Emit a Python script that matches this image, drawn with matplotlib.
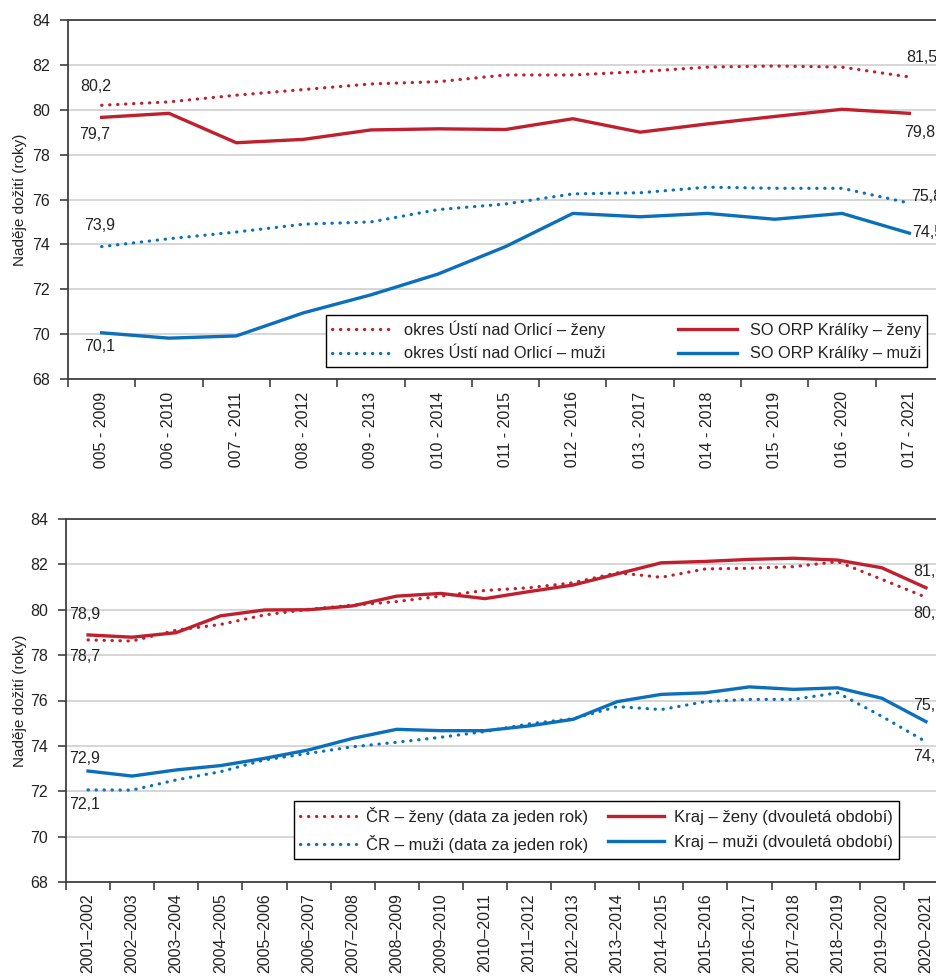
import numpy as np
import matplotlib
matplotlib.use("Agg")
import matplotlib.pyplot as plt
from matplotlib.ticker import NullFormatter
from matplotlib.transforms import Bbox, TransformedBbox

plt.rcParams["font.family"] = ["Liberation Sans", "DejaVu Sans"]

# horní graf - pětiletá období
obdobi_5 = ["2005 - 2009", "2006 - 2010", "2007 - 2011", "2008 - 2012", "2009 - 2013",
            "2010 - 2014", "2011 - 2015", "2012 - 2016", "2013 - 2017", "2014 - 2018",
            "2015 - 2019", "2016 - 2020", "2017 - 2021"]
okres_zeny = [80.2, 80.35, 80.65, 80.9, 81.15, 81.25, 81.55, 81.55, 81.7, 81.9, 81.95, 81.9, 81.46]
okres_muzi = [73.9, 74.25, 74.55, 74.9, 75.0, 75.55, 75.8, 76.25, 76.3, 76.55, 76.5, 76.5, 75.84]
orp_zeny = [79.66, 79.84, 78.53, 78.68, 79.1, 79.15, 79.12, 79.6, 79.0, 79.37, 79.7, 80.02, 79.84]
orp_muzi = [70.06, 69.82, 69.92, 70.95, 71.75, 72.68, 73.9, 75.38, 75.23, 75.38, 75.12, 75.38, 74.5]

# dolní graf - dvouletá období
obdobi_2 = ["2001–2002", "2002–2003", "2003–2004", "2004–2005", "2005–2006", "2006–2007",
            "2007–2008", "2008–2009", "2009–2010", "2010–2011", "2011–2012", "2012–2013",
            "2013–2014", "2014–2015", "2015–2016", "2016–2017", "2017–2018", "2018–2019",
            "2019–2020", "2020–2021"]
cr_zeny = [78.67, 78.62, 79.1, 79.35, 79.77, 80.02, 80.2, 80.36, 80.6, 80.85,
           80.97, 81.19, 81.63, 81.43, 81.8, 81.83, 81.9, 82.12, 81.34, 80.55]
cr_muzi = [72.06, 72.05, 72.5, 72.86, 73.38, 73.67, 73.96, 74.16, 74.38, 74.63,
           74.97, 75.2, 75.73, 75.6, 75.95, 76.05, 76.05, 76.34, 75.3, 74.18]
kraj_zeny = [78.89, 78.79, 78.99, 79.73, 79.99, 80.0, 80.17, 80.6, 80.72, 80.49,
             80.8, 81.09, 81.58, 82.07, 82.13, 82.22, 82.27, 82.19, 81.85, 80.97]
kraj_muzi = [72.89, 72.67, 72.94, 73.13, 73.45, 73.82, 74.33, 74.73, 74.67, 74.67,
             74.88, 75.17, 75.95, 76.27, 76.34, 76.6, 76.49, 76.56, 76.1, 75.07]

RED = "#c0202e"
BLUE = "#0b6fbb"
SPINE = "#404040"
TXT = "#222222"
DOT = (0, (0.1, 2.4))


def fmt(v):
    return f"{v:.1f}".replace(".", ",")


def popisek(ax, x, y, dx, dy, ha="center"):
    ax.annotate(fmt(y), (x, y), xytext=(dx, dy), textcoords="offset pixels",
                ha=ha, va="center", fontsize=11.5, color=TXT)


def nastav(ax, labels):
    n = len(labels)
    ax.set_xlim(-0.5, n - 0.5)
    ax.set_ylim(68, 84)
    ax.set_yticks(range(68, 85, 2))
    ax.set_xticks(np.arange(n + 1) - 0.5)
    ax.xaxis.set_major_formatter(NullFormatter())
    ax.set_xticks(range(n), minor=True)
    ax.set_xticklabels(labels, minor=True, rotation=90)
    ax.tick_params(axis="x", which="minor", length=0, pad=9, labelsize=11.5, labelcolor=TXT)
    ax.tick_params(axis="x", which="major", length=6, width=1.2, color=SPINE)
    ax.tick_params(axis="y", length=6, width=1.2, color=SPINE, pad=7, labelsize=11.5, labelcolor=TXT)
    ax.grid(axis="y", color="#cccccc", linewidth=1.1)
    ax.set_axisbelow(True)
    ax.spines["right"].set_visible(False)
    for s in ["left", "bottom", "top"]:
        ax.spines[s].set_color(SPINE)
        ax.spines[s].set_linewidth(1.3)
    ax.set_ylabel("Naděje dožití (roky)", fontsize=11, color=TXT)


def legenda(ax, handles, box, fs, ls, hl, tp):
    x0, y0, x1, y1 = box
    leg = ax.legend(handles, [h.get_label() for h in handles], ncol=2, mode="expand",
                    loc="lower left",
                    bbox_to_anchor=(x0 / 937, 1 - y1 / 976, (x1 - x0) / 937, (y1 - y0) / 976),
                    bbox_transform=fig.transFigure, fancybox=False, edgecolor="black",
                    framealpha=1, handlelength=hl, handletextpad=tp, borderpad=0.35,
                    labelspacing=ls, fontsize=fs, borderaxespad=0)
    leg.get_frame().set_linewidth(1.0)
    for t in leg.get_texts():
        t.set_color(TXT)
    return leg


fig = plt.figure(figsize=(9.37, 9.76), dpi=100)
ax1 = fig.add_axes([68 / 937, 1 - 379 / 976, 875 / 937, 359 / 976])
ax2 = fig.add_axes([66 / 937, 1 - 882 / 976, 882 / 937, 363 / 976])

# horní graf
x1 = np.arange(len(obdobi_5))
h1 = ax1.plot(x1, orp_zeny, color=RED, lw=2.4, label="SO ORP Králíky – ženy")[0]
h2 = ax1.plot(x1, orp_muzi, color=BLUE, lw=2.4, label="SO ORP Králíky – muži")[0]
h3 = ax1.plot(x1, okres_zeny, color=RED, lw=2.3, ls=DOT, dash_capstyle="round",
              label="okres Ústí nad Orlicí – ženy")[0]
h4 = ax1.plot(x1, okres_muzi, color=BLUE, lw=2.3, ls=DOT, dash_capstyle="round",
              label="okres Ústí nad Orlicí – muži")[0]
nastav(ax1, obdobi_5)
ax1.yaxis.set_label_coords(-41 / 875, 0.5)

# spodek popisků horního grafu je v předloze oříznutý
clip = TransformedBbox(Bbox([[0, 1 - 469 / 976], [1, 1]]), fig.transFigure)
for lab in ax1.get_xticklabels(minor=True):
    lab.set_clip_box(clip)
    lab.set_clip_on(True)

legenda(ax1, [h3, h4, h1, h2], (326, 315, 927, 367), 11.8, 0.5, 3.6, 0.8)

popisek(ax1, 0, okres_zeny[0], -6, 19)
popisek(ax1, 0, orp_zeny[0], -7, -17)
popisek(ax1, 0, okres_muzi[0], -2, 21)
popisek(ax1, 0, orp_muzi[0], -2, -14)
k = x1[-1]
popisek(ax1, k, okres_zeny[-1], -3, 19, ha="left")
popisek(ax1, k, orp_zeny[-1], -5, -19, ha="left")
popisek(ax1, k, okres_muzi[-1], 2, 7, ha="left")
popisek(ax1, k, orp_muzi[-1], 3, 1, ha="left")

# dolní graf
x2 = np.arange(len(obdobi_2))
g1 = ax2.plot(x2, kraj_zeny, color=RED, lw=2.4, label="Kraj – ženy (dvouletá období)")[0]
g2 = ax2.plot(x2, kraj_muzi, color=BLUE, lw=2.4, label="Kraj – muži (dvouletá období)")[0]
g3 = ax2.plot(x2, cr_zeny, color=RED, lw=2.3, ls=DOT, dash_capstyle="round",
              label="ČR – ženy (data za jeden rok)")[0]
g4 = ax2.plot(x2, cr_muzi, color=BLUE, lw=2.3, ls=DOT, dash_capstyle="round",
              label="ČR – muži (data za jeden rok)")[0]
nastav(ax2, obdobi_2)
ax2.tick_params(axis="x", which="minor", pad=8)
ax2.yaxis.set_label_coords(-39 / 882, 0.5)

legenda(ax2, [g3, g4, g1, g2], (294, 807, 899, 859), 12, 0.6, 3.4, 0.6)

popisek(ax2, 0, kraj_zeny[0], -3, 20)
popisek(ax2, 0, cr_zeny[0], -3, -17)
popisek(ax2, 0, kraj_muzi[0], -3, 13)
popisek(ax2, 0, cr_muzi[0], -3, -15)
k = x2[-1]
popisek(ax2, k, kraj_zeny[-1], -13, 16, ha="left")
popisek(ax2, k, cr_zeny[-1], -13, -16, ha="left")
popisek(ax2, k, kraj_muzi[-1], -13, 16, ha="left")
popisek(ax2, k, cr_muzi[-1], -13, -15, ha="left")

fig.savefig("out.png", dpi=100)
